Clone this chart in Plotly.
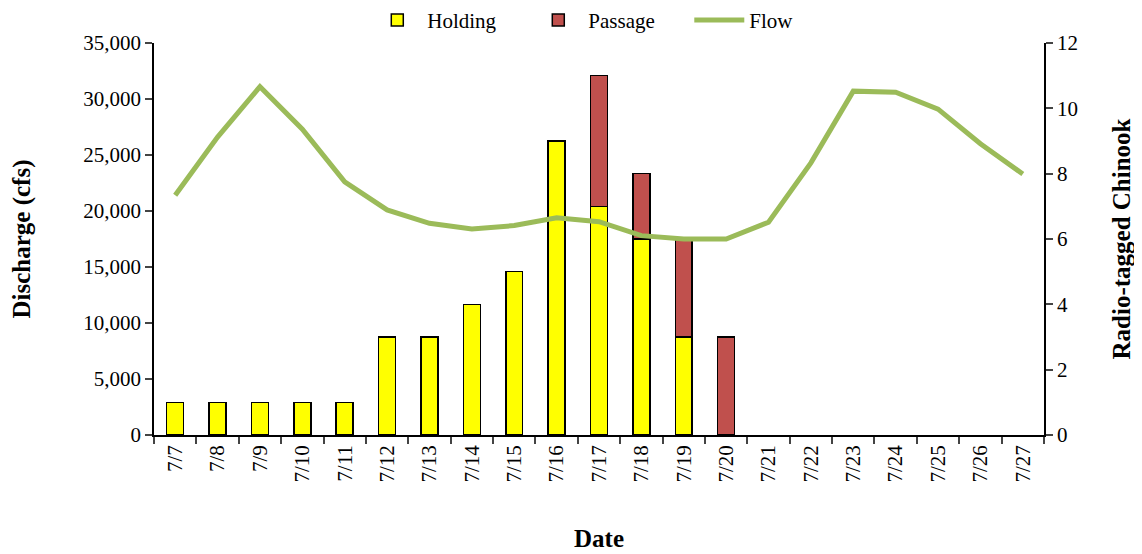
import plotly.graph_objects as go

dates = ["7/7","7/8","7/9","7/10","7/11","7/12","7/13","7/14","7/15","7/16","7/17",
         "7/18","7/19","7/20","7/21","7/22","7/23","7/24","7/25","7/26","7/27"]
holding = [1,1,1,1,1,3,3,4,5,9,7,6,3,None,None,None,None,None,None,None,None]
passage = [None,None,None,None,None,None,None,None,None,None,4,2,3,3,None,None,None,None,None,None,None]
flow = [21400,26600,31100,27300,22600,20100,18900,18400,18700,19400,19050,
        17800,17500,17500,19000,24300,30700,30600,29100,26000,23300]

font_family = "Liberation Serif, Times New Roman, serif"

fig = go.Figure()
fig.add_trace(go.Bar(x=dates, y=holding, name="Holding", yaxis="y",
                     marker=dict(color="#FFFF00", line=dict(color="black", width=1.5)), width=0.4))
fig.add_trace(go.Bar(x=dates, y=passage, name="Passage", yaxis="y",
                     marker=dict(color="#C0504D", line=dict(color="black", width=1.5)), width=0.4))
fig.add_trace(go.Scatter(x=dates, y=flow, name="Flow", yaxis="y2", mode="lines",
                         line=dict(color="#9BBB59", width=5)))

fig.update_layout(
    width=1142, height=554,
    barmode="stack",
    plot_bgcolor="white", paper_bgcolor="white",
    font=dict(family=font_family, size=21, color="black"),
    margin=dict(l=146, r=106, t=35, b=127, autoexpand=False),
    legend=dict(orientation="h", x=0.511, xanchor="center", y=1.11, yanchor="top",
                font=dict(size=21), traceorder="normal", itemwidth=50,
                entrywidth=96, entrywidthmode="pixels",
                bgcolor="rgba(0,0,0,0)"),
    xaxis=dict(type="category", tickangle=-90, ticks="outside", ticklen=7, tickwidth=1.5,
               tickson="boundaries", showline=True, linecolor="black", linewidth=1.5,
               automargin=False,
               title=dict(text="<b>Date</b>", standoff=48), showgrid=False),
    yaxis=dict(side="right", range=[0, 12], dtick=2, ticks="outside", ticklen=7, tickwidth=1.5,
               showline=True, linecolor="black", linewidth=1.5, showgrid=False, zeroline=False,
               automargin=False,
               title=dict(text="<b>Radio-tagged Chinook</b>", standoff=36)),
    yaxis2=dict(side="left", overlaying="y", range=[0, 35000], dtick=5000, tickformat=",d",
                ticks="outside", ticklen=7, tickwidth=1.5, showline=True, linecolor="black",
                linewidth=1.5, showgrid=False, zeroline=False, automargin=False,
                title=dict(text="<b>Discharge (cfs)</b>", standoff=49)),
)

fig.write_html("out.html")
